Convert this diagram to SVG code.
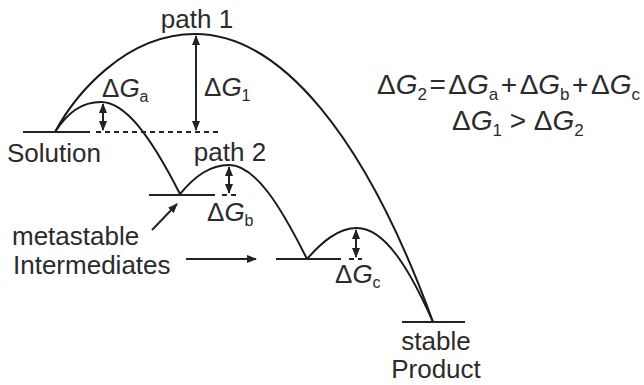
<svg xmlns="http://www.w3.org/2000/svg" width="644" height="385" viewBox="0 0 644 385">
<defs>
<style>
.lvl{stroke:#222;stroke-width:2;fill:none}
.dash{stroke:#222;stroke-width:2;fill:none;stroke-dasharray:5 4}
.crv{stroke:#1a1a1a;stroke-width:2;fill:none}
.arr{stroke:#222;stroke-width:2;fill:none;marker-end:url(#ah)}
.dbl{stroke:#222;stroke-width:2;fill:none;marker-start:url(#ah);marker-end:url(#ah)}
text{font-family:"Liberation Sans",Arial,sans-serif;font-size:26px;fill:#2b2b2b}
.sub{font-size:16px}
.eq{font-size:28px}
.eq .sub{font-size:17px}
.it{font-style:italic}
</style>
<marker id="ah" viewBox="0 0 10 8" refX="9" refY="4" markerWidth="10" markerHeight="8" markerUnits="userSpaceOnUse" orient="auto-start-reverse">
<path d="M0,0 L10,4 L0,8 z" fill="#222"/>
</marker>
</defs>
<rect width="644" height="385" fill="#fff"/>

<g id="connectors">
<path class="crv" d="M55,132 C75,95 125,34 195,34 C280,34 365,135 433,322"/>
<path class="crv" d="M55,132 C68,112 82,102 101,102 C125,102 150,135 180,194"/>
<path class="crv" d="M180,194 C195,176 210,165 229,165 C255,165 280,205 307,259"/>
<path class="crv" d="M307,259 C322,242 338,228 357,228 C385,228 410,270 433,322"/>
<path class="dbl" d="M196,36 L196,130"/>
<path class="dbl" d="M103,104 L103,130"/>
<path class="dbl" d="M229,167 L229,193"/>
<path class="dbl" d="M356,230 L356,257"/>
<path class="arr" d="M152,230 L177,204"/>
<path class="arr" d="M186,259 L256,259"/>
</g>

<g id="solution">
<line class="lvl" x1="23" y1="132" x2="90" y2="132"/>
<line class="dash" x1="96" y1="132" x2="218" y2="132"/>
<text x="7" y="162">Solution</text>
</g>

<g id="intermediate1">
<line class="lvl" x1="149" y1="195" x2="215" y2="195"/>
<line class="dash" x1="222" y1="195" x2="238" y2="195"/>
</g>

<g id="intermediate2">
<line class="lvl" x1="276" y1="259" x2="341" y2="259"/>
<line class="dash" x1="349" y1="259" x2="362" y2="259"/>
</g>

<g id="product">
<line class="lvl" x1="402" y1="322" x2="465" y2="322"/>
<text x="436" y="350" text-anchor="middle">stable</text>
<text x="436" y="378" text-anchor="middle">Product</text>
</g>

<g id="labels">
<text x="197" y="28" text-anchor="middle">path 1</text>
<text x="230" y="161" text-anchor="middle">path 2</text>
<text x="12" y="245">metastable</text>
<text x="13" y="274">Intermediates</text>
<text x="204" y="96">Δ<tspan class="it">G</tspan><tspan class="sub" dy="5">1</tspan></text>
<text x="102" y="97">Δ<tspan class="it">G</tspan><tspan class="sub" dy="5">a</tspan></text>
<text x="207" y="221">Δ<tspan class="it">G</tspan><tspan class="sub" dy="5">b</tspan></text>
<text x="335" y="283">Δ<tspan class="it">G</tspan><tspan class="sub" dy="5">c</tspan></text>
<text class="eq" x="377" y="94">Δ<tspan class="it">G</tspan><tspan class="sub" dy="6">2</tspan><tspan dy="-6" dx="2.5">=</tspan><tspan dx="2.5">Δ</tspan><tspan class="it">G</tspan><tspan class="sub" dy="6">a</tspan><tspan dy="-6" dx="2.5">+</tspan><tspan dx="2.5">Δ</tspan><tspan class="it">G</tspan><tspan class="sub" dy="6">b</tspan><tspan dy="-6" dx="2.5">+</tspan><tspan dx="2.5">Δ</tspan><tspan class="it">G</tspan><tspan class="sub" dy="6">c</tspan></text>
<text class="eq" x="452" y="130">Δ<tspan class="it">G</tspan><tspan class="sub" dy="6">1</tspan><tspan dy="-6"> &gt; Δ</tspan><tspan class="it">G</tspan><tspan class="sub" dy="6">2</tspan></text>
</g>
</svg>
